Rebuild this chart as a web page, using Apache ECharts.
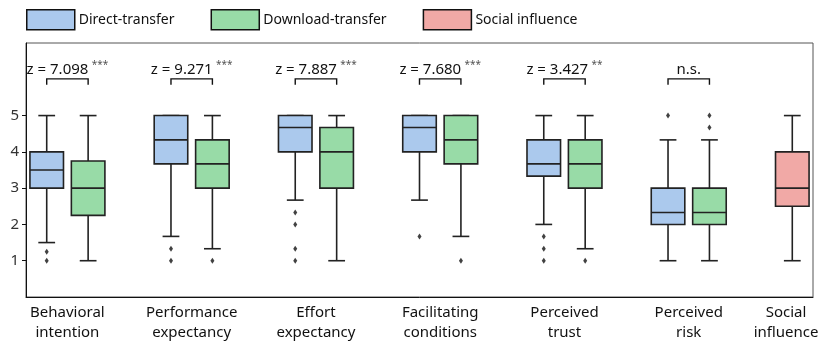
<!DOCTYPE html>
<html>
<head>
<meta charset="utf-8">
<script src="https://cdn.jsdelivr.net/npm/echarts@6/dist/echarts.min.js"></script>
<style>html,body{margin:0;padding:0;background:#fff;}#chart{width:825px;height:345px;}</style>
</head>
<body>
<div id="chart"></div>
<script>
// ---------- data ----------
const categories = ['Behavioral\nintention', 'Performance\nexpectancy', 'Effort\nexpectancy', 'Facilitating\nconditions', 'Perceived\ntrust', 'Perceived\nrisk', 'Social\ninfluence'];
// [min, q1, median, q3, max] (whisker ends)
const directTransfer = [
  [1.5, 3.0, 3.5, 4.0, 5.0],
  [1.67, 3.67, 4.33, 5.0, 5.0],
  [2.67, 4.0, 4.67, 5.0, 5.0],
  [2.67, 4.0, 4.67, 5.0, 5.0],
  [2.0, 3.33, 3.67, 4.33, 5.0],
  [1.0, 2.0, 2.33, 3.0, 4.33]
];
const downloadTransfer = [
  [1.0, 2.25, 3.0, 3.75, 5.0],
  [1.33, 3.0, 3.67, 4.33, 5.0],
  [1.0, 3.0, 4.0, 4.67, 5.0],
  [1.67, 3.67, 4.33, 5.0, 5.0],
  [1.33, 3.0, 3.67, 4.33, 5.0],
  [1.0, 2.0, 2.33, 3.0, 4.33]
];
const socialInfluence = [1.0, 2.5, 3.0, 4.0, 5.0];
const directOutliers = [[1.0, 1.25], [1.0, 1.33], [1.0, 1.33, 2.0, 2.33], [1.67], [1.0, 1.33, 1.67], [5.0]];
const downloadOutliers = [[], [1.0], [], [1.0], [1.0], [4.67, 5.0]];
const zLabels = ['z = 7.098', 'z = 9.271', 'z = 7.887', 'z = 7.680', 'z = 3.427', 'n.s.'];
const sigStars = ['***', '***', '***', '***', '**', ''];
const yTicks = [1, 2, 3, 4, 5];
const seriesNames = ['Direct-transfer', 'Download-transfer', 'Social influence'];
const colors = ['#abc9ed', '#98dba7', '#f1a9a6'];

// ---------- layout helpers (slots: blue, green, gap per group) ----------
const nSlots = 19;
const slots = Array.from({length: nSlots}, (_, i) => 's' + i);
const blueSlot = g => 3 * g;
const greenSlot = g => 3 * g + 1;
const siSlot = 18;

const blueData = directTransfer.map((r, g) => [blueSlot(g)].concat(r));
const greenData = downloadTransfer.map((r, g) => [greenSlot(g)].concat(r));
const redData = [[siSlot].concat(socialInfluence)];
const outlierData = [];
directOutliers.forEach((arr, g) => arr.forEach(v => outlierData.push([blueSlot(g), v])));
downloadOutliers.forEach((arr, g) => arr.forEach(v => outlierData.push([greenSlot(g), v])));
const annoData = zLabels.map((t, g) => [blueSlot(g), greenSlot(g), g]);
const labelPos = categories.map((c, g) => g < 6 ? 3 * g + 0.5 : siSlot - 0.15);

const FONT = 'Noto Sans';
const EDGE = '#222';

function renderBox(params, api) {
  const x = api.value(0);
  const mn = api.value(1), q1 = api.value(2), md = api.value(3), q3 = api.value(4), mx = api.value(5);
  const band = api.size([1, 0])[0];
  const bw = band * 0.81;
  const cw = bw / 2;
  const pMin = api.coord([x, mn]), pQ1 = api.coord([x, q1]), pMd = api.coord([x, md]), pQ3 = api.coord([x, q3]), pMax = api.coord([x, mx]);
  const cx = pMin[0];
  const ls = {stroke: EDGE, lineWidth: 1.6};
  return {
    type: 'group',
    children: [
      {type: 'line', shape: {x1: cx, y1: pQ3[1], x2: cx, y2: pMax[1]}, style: ls},
      {type: 'line', shape: {x1: cx, y1: pQ1[1], x2: cx, y2: pMin[1]}, style: ls},
      {type: 'line', shape: {x1: cx - cw / 2, y1: pMax[1], x2: cx + cw / 2, y2: pMax[1]}, style: ls},
      {type: 'line', shape: {x1: cx - cw / 2, y1: pMin[1], x2: cx + cw / 2, y2: pMin[1]}, style: ls},
      {type: 'rect', shape: {x: cx - bw / 2, y: pQ3[1], width: bw, height: pQ1[1] - pQ3[1]},
        style: {fill: api.visual('color'), stroke: EDGE, lineWidth: 1.6}},
      {type: 'line', shape: {x1: cx - bw / 2, y1: pMd[1], x2: cx + bw / 2, y2: pMd[1]}, style: ls}
    ]
  };
}

function renderAnno(params, api) {
  const b = api.value(0), gr = api.value(1), g = api.value(2);
  const pb0 = api.coord([b, 5.85]), pb1 = api.coord([b, 6.01]);
  const pg0 = api.coord([gr, 5.85]), pg1 = api.coord([gr, 6.01]);
  const pt = api.coord([b, 6.27]);
  const mid = (pb0[0] + pg0[0]) / 2;
  const txt = sigStars[g] ? '{z|' + zLabels[g] + '} {s|' + sigStars[g] + '}' : '{z|' + zLabels[g] + '}';
  return {
    type: 'group',
    children: [
      {type: 'polyline', shape: {points: [pb0, pb1, pg1, pg0]}, style: {stroke: '#111', lineWidth: 1.4, fill: null}},
      {type: 'text', x: mid, y: pt[1], style: {
        text: txt, align: 'center', verticalAlign: 'middle',
        rich: {
          z: {fontFamily: FONT, fontSize: 15, fill: '#111', lineHeight: 18},
          s: {fontFamily: FONT, fontSize: 10, fill: '#555', verticalAlign: 'top', lineHeight: 18}
        }
      }}
    ]
  };
}

const chart = echarts.init(document.getElementById('chart'), null, {renderer: 'canvas'});
chart.setOption({
  animation: false,
  backgroundColor: '#fff',
  textStyle: {fontFamily: FONT},
  legend: {
    data: seriesNames,
    left: 21, top: 4,
    itemWidth: 48, itemHeight: 20, itemGap: 36,
    icon: 'rect',
    itemStyle: {borderColor: '#111', borderWidth: 1.5},
    textStyle: {fontFamily: FONT, fontSize: 14, color: '#111', padding: [0, 0, 0, -1]}
  },
  grid: {left: 26, right: 12, top: 43, bottom: 48, show: true, borderColor: '#555', borderWidth: 1},
  xAxis: [
    {type: 'category', data: slots, boundaryGap: true, position: 'bottom',
      axisLine: {show: true, onZero: false, lineStyle: {color: '#111', width: 1}}, axisTick: {show: false}, axisLabel: {show: false}},
    {type: 'value', min: -0.5, max: nSlots - 0.5, position: 'bottom',
      axisLine: {show: false, onZero: false}, axisTick: {show: false}, splitLine: {show: false},
      axisLabel: {customValues: labelPos, margin: 6, fontFamily: FONT, fontSize: 15, color: '#111', lineHeight: 20,
        formatter: v => { const i = labelPos.indexOf(v); return i >= 0 ? categories[i] : ''; }}}
  ],
  yAxis: {
    type: 'value', min: 0, max: 7, interval: 1,
    axisLine: {show: true, onZero: false, lineStyle: {color: '#111', width: 1}},
    axisTick: {show: true, customValues: yTicks, length: 4, lineStyle: {color: '#111'}},
    axisLabel: {customValues: yTicks, fontFamily: FONT, fontSize: 15, color: '#333', margin: 7},
    splitLine: {show: false}
  },
  series: [
    {name: seriesNames[0], type: 'custom', renderItem: renderBox, data: blueData, itemStyle: {color: colors[0], borderColor: '#111', borderWidth: 1.5}, encode: {x: 0, y: [1, 2, 3, 4, 5]}, z: 3},
    {name: seriesNames[1], type: 'custom', renderItem: renderBox, data: greenData, itemStyle: {color: colors[1], borderColor: '#111', borderWidth: 1.5}, encode: {x: 0, y: [1, 2, 3, 4, 5]}, z: 3},
    {name: seriesNames[2], type: 'custom', renderItem: renderBox, data: redData, itemStyle: {color: colors[2], borderColor: '#111', borderWidth: 1.5}, encode: {x: 0, y: [1, 2, 3, 4, 5]}, z: 3},
    {name: 'outliers', type: 'scatter', data: outlierData, symbol: 'diamond', symbolSize: [4, 6], itemStyle: {color: '#111'}, z: 4},
    {name: 'annotations', type: 'custom', renderItem: renderAnno, data: annoData, encode: {x: 0, y: -1}, silent: true, z: 5}
  ]
});
</script>
</body>
</html>
